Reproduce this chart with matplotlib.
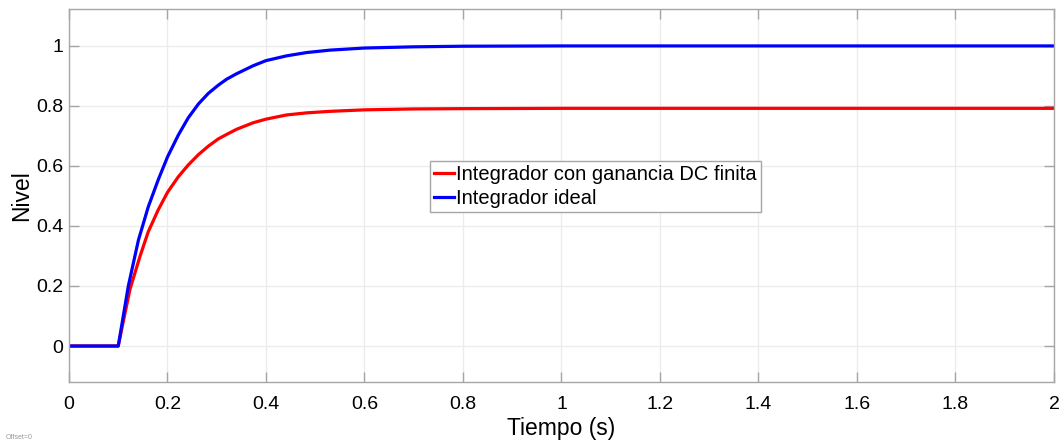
import numpy as np
import matplotlib
matplotlib.use("Agg")
import matplotlib.pyplot as plt
from matplotlib.ticker import FormatStrFormatter

plt.rcParams['font.family'] = ['Liberation Sans', 'DejaVu Sans']

# respuesta del integrador ideal
t_ideal = [0, 0.1, 0.1205, 0.141, 0.161, 0.181, 0.2, 0.222, 0.242, 0.263,
           0.283, 0.303, 0.32, 0.34, 0.374, 0.4, 0.442, 0.483, 0.53, 0.6,
           0.7, 0.8, 1.0, 1.5, 2.0]
y_ideal = [0, 0, 0.2, 0.353, 0.464, 0.553, 0.63, 0.703, 0.76, 0.807,
           0.842, 0.869, 0.889, 0.907, 0.934, 0.951, 0.967, 0.978, 0.986, 0.993,
           0.997, 0.999, 1.0, 1.0, 1.0]

# respuesta del integrador con ganancia DC finita
t_finito = [0, 0.1, 0.124, 0.144, 0.161, 0.181, 0.2, 0.222, 0.242, 0.263,
            0.283, 0.303, 0.32, 0.34, 0.374, 0.4, 0.442, 0.483, 0.53, 0.6,
            0.7, 0.8, 1.0, 2.0]
y_finito = [0, 0, 0.19, 0.298, 0.381, 0.453, 0.512, 0.564, 0.603, 0.638,
            0.666, 0.69, 0.705, 0.722, 0.744, 0.756, 0.77, 0.777, 0.782, 0.787,
            0.79, 0.791, 0.792, 0.792]

fig = plt.figure(figsize=(10.63, 4.44), dpi=100)
ax = fig.add_axes([0.0649, 0.1396, 0.9266, 0.8401])

ax.plot(t_finito, y_finito, color='#ff0000', lw=2.3, label='Integrador con ganancia DC finita')
ax.plot(t_ideal, y_ideal, color='#0000ff', lw=2.3, label='Integrador ideal')

ax.set_xlim(0, 2)
ax.set_ylim(-0.12, 1.123)
ax.set_xticks(np.arange(0, 2.01, 0.2))
ax.set_yticks(np.arange(0, 1.01, 0.2))
ax.xaxis.set_major_formatter(FormatStrFormatter('%g'))
ax.yaxis.set_major_formatter(FormatStrFormatter('%g'))

ax.grid(True, color='#ececec', lw=1)
ax.set_axisbelow(True)
for s in ax.spines.values():
    s.set_color('#a6a6a6')
    s.set_linewidth(1.0)
ax.tick_params(direction='in', length=7, width=1, color='#a6a6a6',
               top=True, right=True, labelsize=14, labelcolor='black')
ax.tick_params(axis='x', pad=10)
ax.tick_params(axis='y', pad=4)

ax.set_xlabel('Tiempo (s)', fontsize=16.5, labelpad=3)
ax.set_ylabel('Nivel', fontsize=16.5, labelpad=2)

leg = ax.legend(loc='upper left', bbox_to_anchor=(430 / 1063, 1 - 161 / 444),
                bbox_transform=fig.transFigure, fontsize=14.5, frameon=True,
                fancybox=False, framealpha=1, edgecolor='#a6a6a6',
                handlelength=1.0, handletextpad=0.1, labelspacing=0.25,
                borderpad=0.2, borderaxespad=0)
leg.get_frame().set_linewidth(1.0)

fig.text(0.005, 0.012, 'Offset=0', fontsize=5, color='#999999')

fig.savefig('out.png', dpi=100)
